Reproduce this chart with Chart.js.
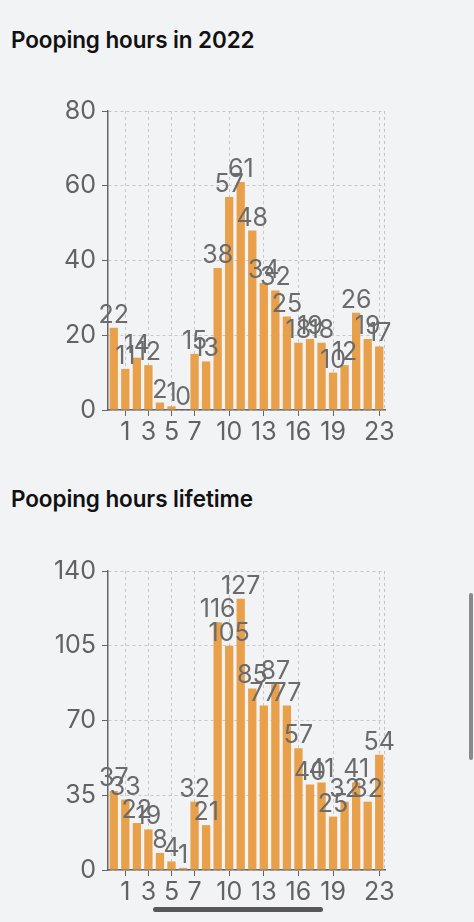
<!DOCTYPE html>
<html>
<head>
<meta charset="utf-8">
<script src="https://cdn.jsdelivr.net/npm/chart.js@4"></script>
<style>
  body { margin: 0; background: #f2f3f5; width: 474px; height: 922px; overflow: hidden; position: relative; font-family: Inter, sans-serif; }
  h2 { position: absolute; left: 11px; margin: 0; font-size: 22.5px; font-weight: 600; color: #111; line-height: 26px; letter-spacing: -0.1px; }
  canvas { position: absolute; left: 0; }
  .vscroll { position: absolute; left: 469px; top: 593px; width: 4px; height: 167px; background: #8a8a8c; border-radius: 2px; }
  .hscroll { position: absolute; left: 153px; top: 907px; width: 170px; height: 5px; background: #58585a; border-radius: 3px; }
</style>
</head>
<body>
<h2 id="title1" style="top:27px">Pooping hours in 2022</h2>
<canvas id="chart2022" width="474" height="380" style="top:70px"></canvas>
<h2 id="title2" style="top:486px">Pooping hours lifetime</h2>
<canvas id="chartLifetime" width="474" height="380" style="top:530px"></canvas>
<div class="vscroll"></div>
<div class="hscroll"></div>
<script>
// ===== Data =====
const hours = ["0","1","2","3","4","5","6","7","8","9","10","11","12","13","14","15","16","17","18","19","20","21","22","23"];
const shownHours = [1, 3, 5, 7, 10, 13, 16, 19, 23];
const hours2022 = [22, 11, 14, 12, 2, 1, 0, 15, 13, 38, 57, 61, 48, 34, 32, 25, 18, 19, 18, 10, 12, 26, 19, 17];
const hoursLifetime = [37, 33, 22, 19, 8, 4, 1, 32, 21, 116, 105, 127, 85, 77, 87, 77, 57, 40, 41, 25, 32, 41, 32, 54];

Chart.defaults.font.family = "Inter, 'Open Sans', sans-serif";
Chart.defaults.font.size = 25;
Chart.defaults.color = "#626262";

// value labels above each bar
const barLabels = {
    id: "barLabels",
    afterDatasetsDraw(chart) {
        const ctx = chart.ctx;
        const values = chart.data.datasets[0].data;
        ctx.save();
        ctx.font = "25px Inter, sans-serif";
        ctx.fillStyle = "#6b6b6b";
        ctx.textAlign = "center";
        ctx.textBaseline = "alphabetic";
        chart.getDatasetMeta(0).data.forEach((bar, i) => {
            ctx.fillText(values[i], bar.x, bar.y - 5);
        });
        ctx.restore();
    }
};

// dashed line closing the right side of the plot
const rightEdge = {
    id: "rightEdge",
    beforeDatasetsDraw(chart) {
        const { ctx, chartArea } = chart;
        ctx.save();
        ctx.strokeStyle = "#c4c4c6";
        ctx.lineWidth = 1;
        ctx.setLineDash([3, 3]);
        ctx.beginPath();
        ctx.moveTo(chartArea.right - 0.5, chartArea.top);
        ctx.lineTo(chartArea.right - 0.5, chartArea.bottom);
        ctx.stroke();
        ctx.restore();
    }
};

function makeChart(id, values, max, step) {
    return new Chart(document.getElementById(id), {
        type: "bar",
        data: {
            labels: hours,
            datasets: [{
                data: values,
                backgroundColor: "#e9a04b",
                barPercentage: 0.72,
                categoryPercentage: 1
            }]
        },
        options: {
            responsive: false,
            animation: false,
            layout: { padding: { top: 41, right: 89, left: 0, bottom: 0 } },
            plugins: { legend: { display: false }, tooltip: { enabled: false } },
            scales: {
                x: {
                    grid: {
                        offset: false,
                        color: c => shownHours.includes(c.index) ? "#c8c8ca" : "transparent",
                        tickColor: c => shownHours.includes(c.index) ? "#666" : "transparent",
                        tickBorderDash: [],
                        tickLength: 6
                    },
                    border: { color: "#666", width: 1.5, dash: [3, 3] },
                    ticks: {
                        autoSkip: false,
                        maxRotation: 0,
                        padding: 1,
                        callback: (v, i) => shownHours.includes(i) ? hours[i] : ""
                    },
                    afterFit: s => { s.height = 40; }
                },
                y: {
                    min: 0,
                    max: max,
                    ticks: { stepSize: step, padding: 6 },
                    grid: {
                        color: "#c8c8ca",
                        tickColor: "#666",
                        tickBorderDash: [],
                        tickLength: 6
                    },
                    border: { color: "#666", width: 1.5, dash: [3, 3] },
                    afterFit: s => { s.width = 108; }
                }
            }
        },
        plugins: [rightEdge, barLabels]
    });
}

makeChart("chart2022", hours2022, 80, 20);
makeChart("chartLifetime", hoursLifetime, 140, 35);
</script>
</body>
</html>
